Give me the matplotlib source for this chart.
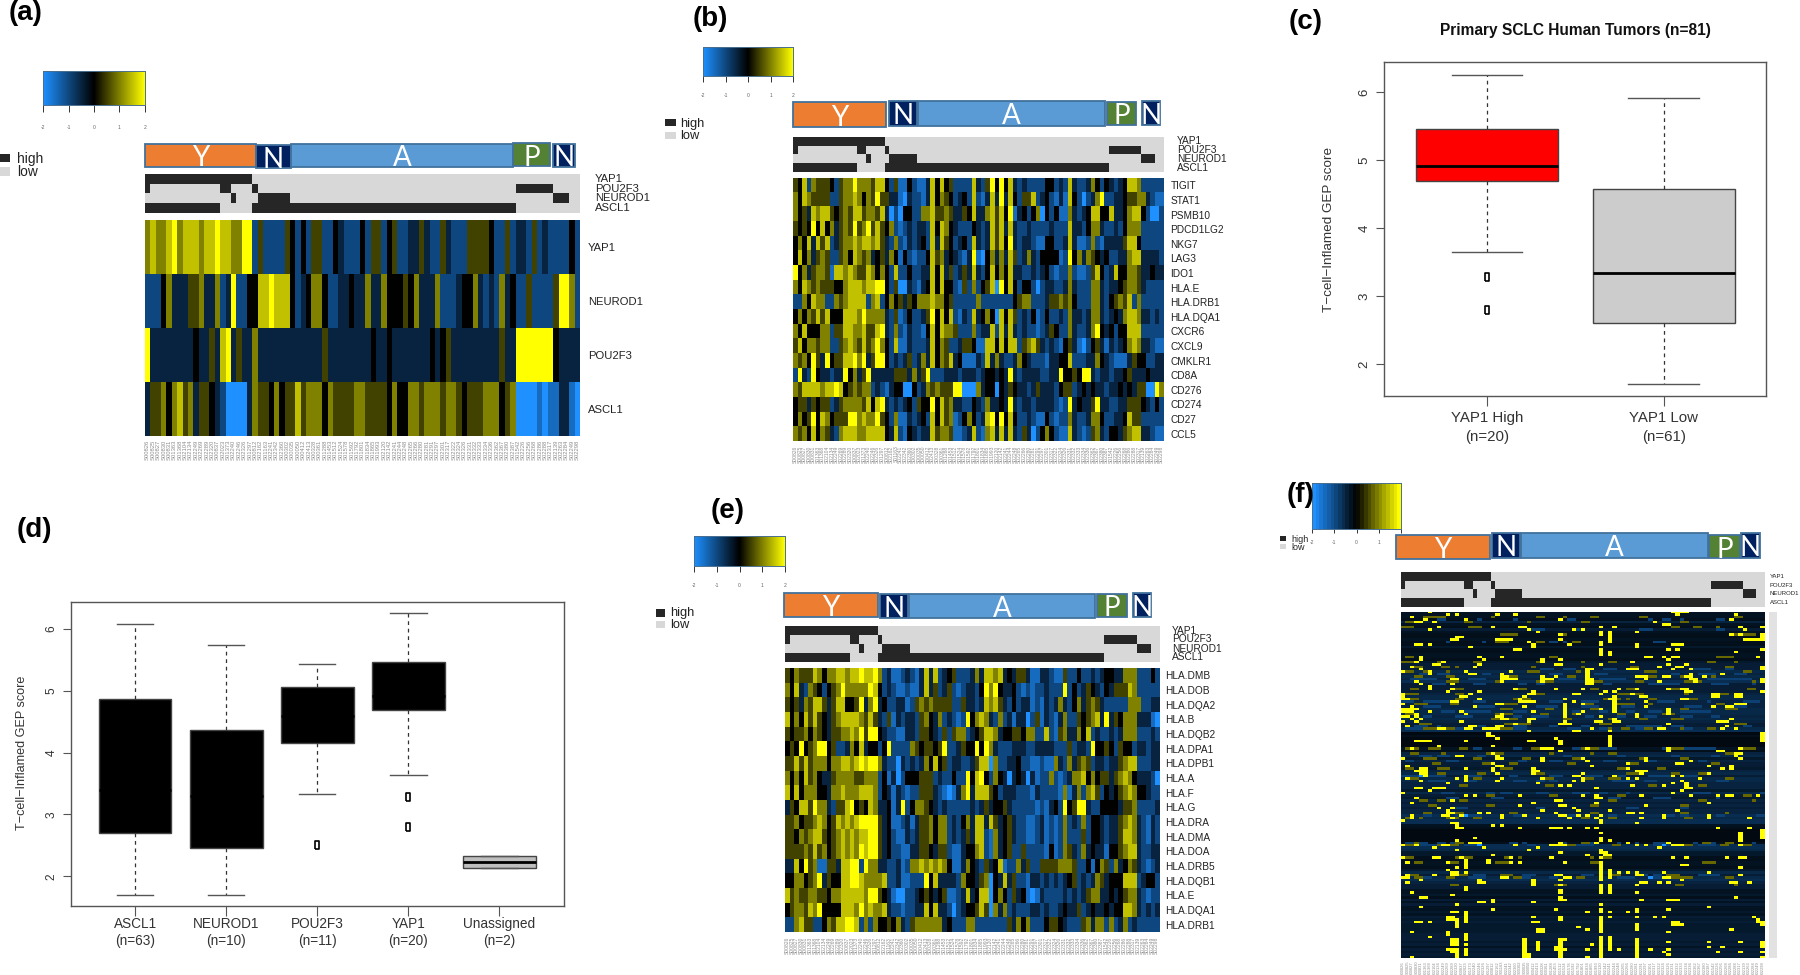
"""Six-panel SCLC figure: subtype heatmaps (a, b, e, f) and GEP score boxplots (c, d)."""
import matplotlib
matplotlib.use("Agg")
import matplotlib.pyplot as plt
import numpy as np
from matplotlib.colors import LinearSegmentedColormap, ListedColormap
from matplotlib.patches import Rectangle

plt.rcParams["font.family"] = ["Liberation Sans", "DejaVu Sans"]

W, H = 1800, 975
SCORE_LABEL = "T\u2212cell\u2212Inflamed GEP score"

# sample ids under every heatmap, small print so read as well as possible
samples = """S00826 S00825 S00827 S00830 S00831 S01363 S01368 S02104 S02134 S02249
S02269 S02289 S02320 S00837 S02023 S01373 S02240 S02246 S02326 S01297
S00812 S02162 S01163 S02241 S02342 S02360 S00302 S00035 S00050 S00412
S02413 S00328 S00361 S01288 S01453 S01512 S01524 S01578 S01592 S01792
S01801 S01834 S01865 S01993 S02120 S02142 S02241 S02244 S02248 S02265
S02266 S02280 S02281 S02291 S02297 S02301 S02317 S02322 S02324 S02326
S02331 S02332 S02333 S02334 S02336 S02362 S02367 S02380 S02387 S01542
S02226 S02256 S02268 S02286 S02288 S02317 S02139 S02263 S02284 S02249
S02298""".split()

# high / low calls above every heatmap
call_genes = ["YAP1", "POU2F3", "NEUROD1", "ASCL1"]
call_yap1 = "1111111111 1111111111 0000000000 0000000000 0000000000 0000000000 0000000000 00000000000"
call_pou2f3 = "1000000000 0000110000 1000000000 0000000000 0000000000 0000000000 0000000001 11111100000"
call_neurod1 = "0000000000 0000001000 0111111000 0000000000 0000000000 0000000000 0000000000 00000011100"
call_ascl1 = "1111111111 1111000000 1111111111 1111111111 1111111111 1111111111 1111111110 00000000000"

# heatmap cells are digits 0-8, meaning z scores -2 to 2 in steps of 0.5
a_genes = ["YAP1", "NEUROD1", "POU2F3", "ASCL1"]
a_rows = [
    "6766786777 6778776688 2522225424 2552243222 4255245223 3532253222 5555422523 32523222242",
    "2224633355 6336238224 4778777423 4664223343 3633644454 6333622234 4632326342 25222258862",
    "8333333334 3353783533 6333333333 3335333333 3343343333 3334345333 3333335338 88888843333",
    "3556467563 5543200003 6554645575 6664655556 6555546446 6566656654 5556664560 00010113310",
]

b_genes = ["TIGIT", "STAT1", "PSMB10", "PDCD1LG2", "NKG7", "LAG3", "IDO1", "HLA.E", "HLA.DRB1",
           "HLA.DQA1", "CXCR6", "CXCL9", "CMKLR1", "CD8A", "CD276", "CD274", "CD27", "CCL5"]
b_rows = [
    "5472655542 5668666577 4251142113 7474522227 3258484732 3222244232 7322364243 23477622222",
    "6476555522 5667646585 5331032213 7465423427 2137383742 5572342131 7420236822 33455663211",
    "6453767754 5657756657 3020442266 7556533547 3367574813 4246042411 6323477447 33467742002",
    "5454847463 5658568575 4621232332 7476432224 3237573732 2322223222 7332466322 32466622222",
    "4647375723 5667677675 3262132342 7375423427 3237574832 3321144223 7311262133 33577422222",
    "4746356522 5647656345 3641421224 7563432138 1046363752 3632444412 8463654342 23367733332",
    "8463566517 7676557646 4272242233 7473523537 3247464733 2232342122 6211257423 74466533433",
    "6476565554 4677767788 4250032134 7474421526 2457084742 4420233223 6322266323 34566532222",
    "2264766226 5677772672 4645354666 7664522222 6222222245 6622235565 6422266324 56572622222",
    "4646575744 4777686666 3251242235 8474721327 3464074752 3241242232 6332366323 43677633232",
    "6474446625 5776675578 3262132214 7476652226 2337273732 3221235422 6322368434 24477722222",
    "5746656622 5676575686 4271132223 7465223554 1177474772 5675323214 5310245313 23467633211",
    "6564853845 5778683588 4232352363 7465734111 3273632236 4322213344 7222336432 11135442233",
    "2832843323 3846358333 3355536358 2223332333 2344343832 3333223384 4548832332 33453334333",
    "6577776778 7456566232 1344004236 5655588000 6344043543 3235333245 5234343323 34343550086",
    "4553545523 5666657478 3232342544 8475633224 3263343832 3323333212 8343358332 23355543242",
    "4645847645 5588676685 4261132342 7475612464 2378484742 2321142122 6322366422 33475522222",
    "6564746532 6777667777 4372143233 7566511237 2167373732 5302464211 7321256324 43567733211",
]

e_genes = ["HLA.DMB", "HLA.DOB", "HLA.DQA2", "HLA.B", "HLA.DQB2", "HLA.DPA1", "HLA.DPB1", "HLA.A", "HLA.F",
           "HLA.G", "HLA.DRA", "HLA.DMA", "HLA.DOA", "HLA.DRB5", "HLA.DQB1", "HLA.E", "HLA.DQA1", "HLA.DRB1"]
e_rows = [
    "5465557646 6776778778 6231123213 7372345222 3637767343 5531133211 5224223234 43366622242",
    "6473265424 5686666687 4232112113 7352352123 3248684334 2121223222 8242354324 35557622222",
    "5453657753 5774458368 3422331256 5655552253 3237675324 2331213236 3246356532 22226662233",
    "7464757543 5677776575 3251323325 6436232128 4676326231 3302513213 6225456738 35466633310",
    "5455646543 5566768588 4322113325 5432525662 3457763445 5466227215 6336472322 32366622232",
    "4548456884 5223647344 2482222654 5545822354 4848632223 3322333322 2523328445 42544233233",
    "5575756664 6677678788 6322032323 6474523322 3577062233 4221121163 2635652332 33567722233",
    "6464756433 5666655666 2413024445 5523224228 4784264303 4303122621 2366746455 35676433320",
    "7474666443 6676667776 2431321225 5532101368 3777542333 2221322221 6136267524 34567644322",
    "3547758663 2557845476 3341382466 5432322222 3235344532 2222121342 8458832244 44355622223",
    "5564556764 5767678888 5341123135 5646623246 3773753453 2211231212 6232624432 33567632132",
    "5546567754 5676767788 5342113235 5646623235 3772163453 2211231212 6222524432 33577632132",
    "5555657564 5676768788 5342211335 5435521134 4672163452 2522221412 6532634331 44567732233",
    "3374856115 5377882866 3322312667 6767641136 4325347122 6352255556 6652241465 26346532123",
    "4466456835 4477887666 6722311222 8473333264 4356043735 2213323232 3452323653 44477723442",
    "7565566554 6677777688 5431002234 5434511237 3477046425 3410132222 3232356633 43456632122",
    "4566576844 4477768676 6732212233 7473320234 4575063623 2223323223 4335234334 34477632323",
    "2267552246 5778872626 4454632566 6666342226 6222222253 6462224554 3222563662 62362322222",
]

# panel f is 140 rows x 81 columns and mostly one navy level per row, so it is kept sparse:
# base darkness per row (digit = -0.07 * z) and the columns that stand out
f_base = ("4443743643" "3433533443" "5666878796" "6667887778" "8878766892" "3222243785" "7665786887"
          "7758657676" "7798994322" "2223998553" "3443586897" "6644536464" "4546565555" "6665646565")
f_yellow = [
    [6, 60, 61, 62, 63], [10, 12, 21, 25, 61, 74], [2], [5, 14, 35, 73], [3, 4, 7, 56], [58, 59],
    [8, 20, 26, 27, 44, 47, 75, 80], [6, 28, 38, 40, 76], [30, 44, 46, 52], [35, 44, 46, 73, 75, 80],
    [12, 13, 46, 80], [11, 12, 21, 22, 23, 24, 35, 46, 76, 77, 78, 79, 80], [28, 44, 46],
    [3, 4, 6, 29, 37, 44, 52, 60, 61, 62], [15, 29, 52], [25, 26, 44, 59, 61, 80], [44, 46, 74], [44, 46],
    [4, 17, 22, 54, 55, 58, 60, 61, 79], [4, 18, 31, 35, 59], [3, 9, 31, 51], [7, 8, 17, 34, 35, 44, 59, 63],
    [2, 16, 57, 61, 62, 80], [4, 41, 42, 50, 51, 52, 60, 64, 80], [0, 6, 14, 24, 41], [6, 15, 16, 22, 41, 64, 71],
    [22, 23, 31, 34, 41, 52, 53, 54, 58, 59, 63, 64, 67],
    [11, 12, 22, 23, 24, 25, 31, 32, 33, 41, 42, 54, 64, 65, 80], [3, 22, 31, 41, 42, 57, 65, 80],
    [4, 11, 41, 42], [6], [6, 11, 25, 34, 40, 48, 52, 59, 62, 63], [10, 17, 29, 45, 47, 63, 64, 80],
    [0, 15, 28, 29, 38, 39, 44, 51, 69, 70, 74, 75], [0, 13, 14, 27, 47, 53, 54, 69, 70, 74, 75],
    [0, 1, 17, 26, 36, 46, 47, 62, 63], [11, 12, 26, 27, 28, 29, 38, 47, 54], [0, 21, 22, 36, 40, 47, 74, 75, 76],
    [2, 16, 27, 36, 47, 54, 69, 72, 73], [0, 1, 2, 3, 36, 44, 47, 59], [0, 1, 2, 6, 13, 29, 36, 40, 47, 59],
    [3, 14, 22, 36, 39, 52, 59], [0, 1, 3, 21, 22, 36, 44, 52], [2, 4, 22, 23, 28, 29, 47, 73],
    [0, 3, 13, 28, 36, 43, 44, 47, 48, 70, 71, 72], [25, 35, 36, 37, 59], [1, 15, 16, 21, 22, 72],
    [8, 9, 14, 15, 18, 19, 20, 21, 42, 57, 58, 71, 74], [28, 38, 39, 46], [19, 80], [19, 20, 46, 80], [21, 34, 46, 80],
    [3, 4, 5, 6, 14, 28, 29, 35, 46, 80], [35, 46], [8, 20, 46], [2, 31, 32, 33, 41, 59, 75], [35, 59, 70, 71],
    [20, 74, 75], [12, 13, 21, 74], [0, 21, 22, 31, 40, 54, 75], [31, 41, 54, 64], [20, 50, 61, 62],
    [1, 21, 22, 42, 68, 73], [4, 5, 14, 20, 29, 50, 71, 73], [3, 4, 5, 20, 29, 30, 52, 53, 54], [4, 5, 21, 29, 40, 53, 68],
    [5, 14, 38, 39, 47, 60, 62], [1, 12, 14, 22, 31, 40, 50, 52, 66], [4, 14, 21, 38, 40, 62], [10, 30, 60, 63],
    [35, 37, 51, 58, 63], [3, 4, 7, 8, 9, 43, 63, 64], [6, 62], [0, 60], [14, 16, 26, 40, 43, 53, 64, 70, 72, 73, 79],
    [3, 43, 44], [11, 34, 35], [2, 29, 43, 68], [26, 35, 36, 54], [8, 11, 38], [10, 31, 39, 46, 61],
    [10, 11, 17, 19, 34, 50, 51, 53], [2, 9, 10, 13, 22, 27, 35, 36, 39, 41, 44, 58, 68],
    [2, 11, 22, 30, 37, 43, 53, 58, 68, 77], [0, 44], [11, 12, 44, 52], [12, 20, 22],
    [12, 13, 26, 33, 34, 35, 37, 41, 43, 70, 77], [80], [44, 75, 80], [75, 80], [16, 44, 75, 80], [12, 44, 46, 75],
    [15, 16, 17, 35, 43, 50, 59], [0, 3, 9, 10, 25, 33, 34, 35, 36, 52, 54, 60, 61, 62, 75], [7, 18, 30, 57],
    [12, 28, 44], [35, 44, 45], [20, 41, 45, 46], [0, 7, 8, 13, 24, 33, 44, 60, 63, 72, 75, 76], [14, 19],
    [1, 10, 14, 19, 24, 26, 36, 44], [14, 44, 62, 63], [12, 14, 44, 75], [10, 44, 46],
    [11, 12, 14, 44, 46, 48, 50, 52, 58, 68], [1, 7, 11, 12, 34, 35, 44, 46, 52, 53, 75],
    [0, 1, 22, 23, 36, 37, 44, 46, 58, 59], [4, 17, 29, 35, 44, 62], [1, 17, 18, 29, 53, 54, 57, 59, 73, 74, 77],
    [29, 35, 44, 46, 52], [14, 44, 46], [14, 35, 44, 46], [2, 35, 44, 46, 52], [11], [4, 5, 35, 74],
    [20, 35, 36, 53, 59, 60, 61], [17, 18, 20, 29], [12, 44], [4, 68], [20, 34, 44, 52, 59],
    [11, 12, 14, 41, 44, 46, 50, 52], [14], [10, 11, 14, 29, 35, 44, 46, 52, 56, 58, 78], [10, 11, 12, 14, 35, 44, 79],
    [3, 4, 6, 12, 14, 29, 30, 44, 60, 61, 79, 80], [12, 44, 52, 60, 61, 62, 80], [12, 39, 44, 52], [30, 31, 41, 44, 52, 73],
    [2, 10, 30, 31, 44, 59], [10, 14], [6, 14, 44, 46], [11, 12, 14, 27, 35, 36, 44, 46, 52],
    [11, 12, 27, 30, 35, 44, 46, 52, 59, 68, 75, 80], [11, 12, 14, 27, 30, 35, 42, 44, 46, 52, 80],
    [27, 30, 34, 35, 44, 46, 52, 68, 71, 80], [10, 11, 12, 14, 27, 30, 34, 35, 36, 41, 44, 46, 48, 52, 55, 59],
    [11, 12, 14, 27, 35, 44, 52, 58, 70, 75, 80], [12, 14, 27, 28, 35, 44, 52, 59], [2, 12, 27, 28, 35, 41, 44, 52, 80],
]
f_olive = {
    2: [5, 6, 7, 8, 9, 20, 30, 31, 36, 42, 43, 53, 54, 74, 75], 4: [1, 2, 3, 14, 15, 28, 40, 41, 62, 63],
    6: [0, 1, 2, 15, 16, 17, 60, 61, 65, 66, 70], 9: [22, 23, 24, 25, 35, 36, 73, 74, 75, 76, 77, 78], 12: [21, 22, 23, 30, 31, 38, 39],
    18: [1, 2, 33, 34, 70, 71, 72, 73], 20: [0, 1, 2, 8, 16, 17, 30, 40, 46, 47, 68, 69, 74], 22: [3, 4, 9, 10, 12, 29, 40, 51, 52, 72, 73],
    24: [1, 2, 5, 10, 28, 29, 30, 39, 54, 55, 56, 76, 77], 26: [3, 4, 10, 11, 24, 25, 37, 38, 55, 56, 62, 69],
    28: [10, 11, 12, 21, 30, 32, 33, 43, 44, 52, 53, 63, 64, 66, 78], 31: [2, 3, 12, 13, 26, 27, 42, 43, 50, 51, 60, 61, 77, 78],
    33: [1, 2, 3, 12, 13, 30, 31, 48, 49, 50, 52, 53, 63, 71, 72], 35: [2, 3, 12, 13, 25, 27, 28, 45, 48, 50, 55, 56, 64, 65],
    37: [3, 4, 5, 11, 12, 23, 24, 25, 41, 42, 48, 49, 50, 51, 55, 70, 71], 39: [22, 23, 24, 32, 33, 42, 43, 62, 63, 72, 73, 74],
    41: [1, 2, 21, 23, 24, 31, 32, 38, 48, 49, 58, 60], 43: [20, 21, 24, 25, 36, 37, 46, 53, 54, 60, 61, 62],
    45: [4, 5, 6, 23, 24, 26, 27, 28, 44, 45, 46, 74, 75, 76], 47: [5, 6, 7, 10, 11, 22, 23, 24, 27, 45, 46, 49, 50, 54, 55, 62, 63, 68, 69],
    55: [1, 2, 3, 6, 7, 8, 13, 14, 29, 30, 40, 42, 43, 60, 61, 62, 76, 77, 78], 57: [2, 3, 9, 19, 21, 22, 33, 42, 46, 47, 72, 73],
    59: [5, 6, 7, 16, 17, 27, 28, 38, 39, 53, 62, 63], 61: [7, 8, 18, 19, 24, 25, 37, 38, 51, 52, 69, 70],
    63: [1, 2, 8, 9, 10, 22, 23, 24, 48, 49, 57, 58], 65: [8, 9, 17, 18, 30, 31, 50, 51, 52, 60, 61, 66, 67],
    67: [2, 3, 16, 17, 32, 33, 41, 42, 46, 47, 48, 72, 73], 70: [13, 14, 32, 33, 55, 56, 66, 67], 74: [19, 20, 33, 34, 48, 49, 76, 77],
    76: [4, 5, 8, 9, 13, 14, 46, 47, 66, 67, 78], 78: [6, 7, 19, 20, 42, 43, 62, 63], 81: [5, 6, 12, 13, 24, 25, 42, 43, 62, 63, 72],
    83: [1, 4, 10, 12, 16, 17, 40, 41, 46, 47, 63, 64], 93: [2, 3, 12, 13, 40, 41, 67, 68, 72, 73], 94: [1, 2, 8, 11, 12, 37, 38, 47, 48, 63, 64, 71, 72, 76, 77],
    99: [1, 2, 12, 14, 15, 23, 26, 42, 45, 46], 101: [3, 4, 11, 12, 21, 22, 23, 42, 43, 67, 68, 69], 106: [2, 3, 13, 14, 22, 23, 24, 47, 48, 59, 60, 61],
    107: [3, 4, 10, 11, 25, 26, 39, 40, 60, 61, 62, 63, 64, 72, 73], 110: [11, 12, 34, 36, 61, 62, 74],
}
f_blue = {
    3: [8, 9, 17, 25, 37, 38, 55, 58, 59, 62, 70, 71], 7: [29, 30, 31, 38, 39, 53, 54, 55, 70, 71], 12: [10, 18, 33, 34, 36, 56, 57, 58],
    23: [31, 32, 33, 36, 37, 38, 45, 46, 47, 65, 66, 67, 68, 72, 73], 25: [4, 5, 8, 9, 10, 18, 19, 33, 34, 35, 43, 44, 45, 60, 61, 66, 67, 68, 69, 74, 75, 76],
    27: [2, 3, 4, 5, 6, 7, 15, 16, 17, 18, 35, 36, 37, 38, 44, 45, 46, 47, 48, 49, 68, 69, 70, 71, 72, 73, 74, 75, 76, 77],
    29: [7, 8, 9, 16, 17, 18, 26, 27, 30, 31, 45, 46, 55, 56, 57, 58, 59, 60, 61, 69, 70, 71, 72, 78],
    36: [0, 1, 2, 5, 6, 7, 8, 9, 10, 16, 17, 18, 33, 34, 35, 40, 41, 42, 43, 57, 58, 59, 60, 68, 76, 77, 78, 79],
    38: [5, 6, 7, 8, 17, 18, 19, 20, 30, 31, 32, 33, 34, 40, 41, 42, 43, 49, 50, 51, 63, 64, 65, 66, 74, 75, 76],
    40: [9, 10, 11, 14, 15, 16, 17, 18, 19, 25, 26, 27, 38, 39, 44, 45, 50, 51, 55, 56, 57, 62, 63, 64, 65, 66, 67, 68],
    42: [5, 6, 12, 13, 14, 15, 25, 26, 29, 30, 31, 32, 41, 42, 48, 49, 54, 55, 56, 62, 63, 64, 69, 70],
    46: [3, 4, 5, 8, 17, 18, 25, 26, 27, 33, 34, 40, 41, 50, 51, 52, 53, 54, 55, 56, 57, 60, 61, 62, 76, 77],
    47: [1, 2, 3, 4, 12, 13, 25, 26, 27, 37, 38, 39, 44, 45, 52, 53, 63, 64],
    55: [16, 17, 25, 26, 38, 39, 44, 45, 46, 47, 58, 63, 64, 65, 66, 67, 68, 69], 58: [4, 5, 6, 8, 9, 10, 17, 18, 36, 37, 48, 49, 60, 61, 69, 70],
    60: [1, 2, 10, 11, 12, 26, 27, 33, 34, 35, 45, 46, 47, 55, 56, 66, 67], 66: [0, 1, 2, 3, 6, 7, 8, 9, 15, 16, 17, 24, 25, 33, 34, 35, 41, 42, 43, 44, 48, 49, 55, 56, 57, 58, 59, 63, 64, 65],
    68: [6, 7, 8, 9, 15, 16, 25, 26, 27, 30, 31, 33, 34, 47, 48, 49, 50, 51, 54, 55, 56, 70, 71, 72],
    73: [9, 10, 11, 19, 20, 22, 23, 24, 30, 31, 32, 38, 39, 40, 41, 44, 45, 50, 65, 66, 67, 68, 80],
    75: [10, 11, 12, 20, 21, 22, 46, 47, 48, 56, 57, 58, 59, 70], 79: [12, 13, 14, 30, 31, 50, 51, 52, 62, 63],
    82: [5, 6, 12, 14, 15, 16, 17, 25, 26, 37, 38, 46, 47, 59, 60, 62, 63, 70, 71, 79, 80], 93: [1, 2, 4, 5, 8, 9, 11, 24, 25, 27, 36, 42, 48, 52, 56, 57, 58, 65, 69, 78],
    94: [4, 5, 6, 7, 14, 15, 16, 17, 28, 29, 39, 40, 41, 42, 56, 57, 58, 59, 66, 67, 68, 69], 106: [16, 17, 18, 27, 28, 29, 40, 41, 42, 54, 56, 57, 66, 67, 68, 69, 70],
    107: [5, 6, 15, 16, 17, 18, 27, 28, 33, 34, 48, 49, 50, 51, 55, 56, 57],
}
f_bright = {66: [4], 82: [14], 94: [17, 58], 106: [46], 107: [55], 27: [24]}

# boxplots, values read against the y axes
c_groups = ["YAP1 High\n(n=20)", "YAP1 Low\n(n=61)"]
c_q1 = [4.686, 2.598]
c_med = [4.917, 3.338]
c_q3 = [5.46, 4.569]
c_lo = [3.647, 1.70]
c_hi = [6.255, 5.917]
c_out = [[3.28, 2.80], []]

d_groups = ["ASCL1\n(n=63)", "NEUROD1\n(n=10)", "POU2F3\n(n=11)", "YAP1\n(n=20)", "Unassigned\n(n=2)"]
d_q1 = [2.697, 2.454, 4.15, 4.686, 2.14]
d_med = [3.4, 3.3, 4.6, 4.917, 2.23]
d_q3 = [4.876, 4.368, 5.06, 5.465, 2.32]
d_lo = [1.70, 1.70, 3.335, 3.643, 2.14]
d_hi = [6.08, 5.75, 5.44, 6.254, 2.32]
d_out = [[], [], [2.50], [3.28, 2.80], []]

fig = plt.figure(figsize=(W / 100, H / 100), dpi=100, facecolor="white")
cmap = LinearSegmentedColormap.from_list("z", ["#1E90FF", "#000000", "#FFFF00"])
call_cmap = ListedColormap(["#D8D8D8", "#262626"])

overlay = fig.add_axes([0, 0, 1, 1], zorder=5)
overlay.set_xlim(0, W)
overlay.set_ylim(H, 0)
overlay.axis("off")
overlay.patch.set_alpha(0)


def px_axes(x0, y0, x1, y1):
    return fig.add_axes([x0 / W, 1 - y1 / H, (x1 - x0) / W, (y1 - y0) / H])


def parse(rows):
    return np.array([[(int(c) - 4) * 0.5 for c in r.replace(" ", "")] for r in rows])


def panel_tag(txt, x, y):
    overlay.text(x, y, txt, fontsize=20, fontweight="bold", ha="left", va="center", color="black")


def colorbar(x0, y0, x1, y1, tick_px, pad, steps=256):
    ax = px_axes(x0, y0, x1, y1)
    ax.imshow(np.linspace(-2, 2, steps)[None, :], cmap=cmap, vmin=-2, vmax=2, aspect="auto", extent=[-2, 2, 0, 1])
    ax.set_yticks([])
    ax.set_xticks([-2, -1, 0, 1, 2], ["-2", "-1", "0", "1", "2"])
    ax.tick_params(axis="x", length=tick_px * 0.72, width=0.7, color="#333333", pad=pad, labelsize=3.6, labelcolor="#666666")
    for s in ax.spines.values():
        s.set_color("#4a6f8f")
        s.set_linewidth(0.7)


def legend(sw_x0, sw_x1, text_x, high_box, low_box, high_y, low_y, size):
    overlay.add_patch(Rectangle((sw_x0, high_box[0]), sw_x1 - sw_x0, high_box[1] - high_box[0], color="#262626", lw=0))
    overlay.add_patch(Rectangle((sw_x0, low_box[0]), sw_x1 - sw_x0, low_box[1] - low_box[0], color="#D8D8D8", lw=0))
    overlay.text(text_x, high_y, "high", fontsize=size, va="center", color="#222222")
    overlay.text(text_x, low_y, "low", fontsize=size, va="center", color="#222222")


def subtype_bar(boxes, size):
    # boxes: letter, fill, x0, y0, x1, y1 in figure pixels
    for letter, fill, x0, y0, x1, y1 in boxes:
        overlay.add_patch(Rectangle((x0, y0), x1 - x0, y1 - y0, facecolor=fill, edgecolor="#41719C", lw=1.3))
        overlay.text((x0 + x1) / 2, (y0 + y1) / 2 + 0.5, letter, color="white", fontsize=size,
                     family=["Lato", "DejaVu Sans"], ha="center", va="center_baseline")


def calls(x0, y0, x1, y1, label_x, size):
    matrix = np.array([[int(c) for c in s.replace(" ", "")]
                       for s in [call_yap1, call_pou2f3, call_neurod1, call_ascl1]])
    ax = px_axes(x0, y0, x1, y1)
    ax.imshow(matrix, cmap=call_cmap, vmin=0, vmax=1, aspect="auto", interpolation="nearest")
    ax.axis("off")
    row_h = (y1 - y0) / 4
    for i, g in enumerate(call_genes):
        overlay.text(label_x, y0 + row_h * (i + 0.5), g, fontsize=size, va="center", color="#222222")


def heat(matrix, x0, y0, x1, y1, genes, gene_size, sample_size, pad_px, gene_pad=5.5):
    ax = px_axes(x0, y0, x1, y1)
    ax.imshow(matrix, cmap=cmap, vmin=-2, vmax=2, aspect="auto", interpolation="nearest")
    for s in ax.spines.values():
        s.set_visible(False)
    ax.set_xticks(range(len(samples)), samples, rotation=90, fontsize=sample_size, color="#8c8c8c")
    ax.tick_params(axis="x", length=0, pad=pad_px * 0.72)
    if genes:
        ax.yaxis.tick_right()
        ax.set_yticks(range(len(genes)), genes, fontsize=gene_size, color="#222222")
        ax.tick_params(axis="y", length=0, pad=gene_pad)
    else:
        ax.set_yticks([])
    return ax


ORANGE, NAVY, BLUE, GREEN = "#ED7D31", "#002060", "#5B9BD5", "#548235"

# (a)
panel_tag("(a)", 9, 13)
colorbar(43, 71, 145, 105, 7, 9)
legend(0, 10, 17, (154, 162), (167, 176), 159, 172, 9.9)
subtype_bar([("Y", ORANGE, 145, 144, 256, 167), ("N", NAVY, 256, 145, 291, 168), ("A", BLUE, 291, 144, 513, 167),
             ("P", GREEN, 513, 143, 550, 166), ("N", NAVY, 553, 144, 575, 167)], 20)
calls(145, 174, 580, 213, 595, 8.1)
heat(parse(a_rows), 145, 220, 580, 436, a_genes, 8.1, 4.2, 4)

# (b)
panel_tag("(b)", 693, 19)
colorbar(703, 47, 793, 76, 6, 8)
legend(665, 676, 680, (119, 126), (132, 139), 124, 136, 9.3)
subtype_bar([("Y", ORANGE, 793, 102, 886, 127), ("N", NAVY, 889, 101, 917, 126), ("A", BLUE, 918, 101, 1105, 126),
             ("P", GREEN, 1107, 102, 1136, 125), ("N", NAVY, 1142, 101, 1160, 125)], 20)
calls(793, 137, 1164, 172, 1177, 7.3)
heat(parse(b_rows), 793, 178, 1164, 441, b_genes, 7.3, 3.6, 4.5, gene_pad=4.7)

# (e)
panel_tag("(e)", 711, 511)
colorbar(694, 536, 785, 566, 6, 8)
legend(656, 665, 670, (609, 617), (621, 628), 613, 625, 9.3)
subtype_bar([("Y", ORANGE, 784, 593, 878, 617), ("N", NAVY, 880, 594, 908, 618), ("A", BLUE, 909, 594, 1095, 618),
             ("P", GREEN, 1097, 594, 1127, 617), ("N", NAVY, 1133, 593, 1151, 617)], 20)
calls(785, 626, 1159, 662, 1172, 7.3)
heat(parse(e_rows), 785, 668, 1159, 932, e_genes, 7.3, 3.6, 5, gene_pad=4.3)

# (f)
f_matrix = np.array([[-0.07 * int(c)] * 81 for c in f_base])
for row, cols in f_olive.items():
    f_matrix[row, cols] = 0.8
for row, cols in f_blue.items():
    f_matrix[row, cols] = -0.9
for row, cols in f_bright.items():
    f_matrix[row, cols] = -2
for row, cols in enumerate(f_yellow):
    f_matrix[row, cols] = 2

panel_tag("(f)", 1287, 495)
colorbar(1312, 483, 1401, 529, 4, 5, steps=24)
legend(1280, 1286, 1291, (536, 541), (544, 549), 539, 547, 6.5)
subtype_bar([("Y", ORANGE, 1396, 535, 1490, 559), ("N", NAVY, 1492, 533, 1520, 558), ("A", BLUE, 1521, 533, 1708, 558),
             ("P", GREEN, 1709, 535, 1740, 558), ("N", NAVY, 1741, 533, 1760, 558)], 20)
calls(1401, 572, 1765, 607, 1770, 4.3)
heat(f_matrix, 1401, 612, 1765, 958, None, 0, 2.9, 3)
# row names of (f) are illegible in the source, only their grey strip is kept
overlay.add_patch(Rectangle((1769, 612), 8, 346, color="#e2e2e2", lw=0))


def boxes(ax, groups, q1, med, q3, lo, hi, out, fills, tick_size, label_size, x_pad, line_gap):
    stats = [{"label": g, "q1": a, "med": m, "q3": b, "whislo": l, "whishi": h, "fliers": f}
             for g, a, m, b, l, h, f in zip(groups, q1, med, q3, lo, hi, out)]
    rect = [(-0.55, -1), (0.55, -1), (0.55, 1), (-0.55, 1), (-0.55, -1)]
    art = ax.bxp(stats, positions=range(1, len(groups) + 1), widths=0.8, capwidths=0.4, patch_artist=True,
                 boxprops=dict(edgecolor="#444444", linewidth=1.0),
                 medianprops=dict(color="black", linewidth=2.0),
                 whiskerprops=dict(color="#333333", linewidth=0.9, linestyle=(0, (3, 3))),
                 capprops=dict(color="#555555", linewidth=1.0),
                 flierprops=dict(marker=rect, markersize=6.2, markerfacecolor="white",
                                 markeredgecolor="black", markeredgewidth=1.2))
    for patch, fill in zip(art["boxes"], fills):
        patch.set_facecolor(fill)
    for s in ax.spines.values():
        s.set_color("#555555")
        s.set_linewidth(1.0)
    ax.set_yticks([2, 3, 4, 5, 6])
    ax.tick_params(axis="y", labelrotation=90, length=6, width=0.8, color="#555555", labelsize=tick_size, labelcolor="#333333")
    ax.tick_params(axis="x", length=7, width=0.8, color="#555555", labelsize=label_size, labelcolor="#333333", pad=x_pad)
    for lab in ax.get_yticklabels():
        lab.set_va("center")
    for lab in ax.get_xticklabels():
        lab.set_linespacing(line_gap)


# (c)
ax_c = px_axes(1384, 62, 1766, 396)
boxes(ax_c, c_groups, c_q1, c_med, c_q3, c_lo, c_hi, c_out, ["#FF0000", "#CCCCCC"], 9.5, 10.8, 3.5, 1.45)
ax_c.set_xlim(0.418, 2.578)
ax_c.set_ylim(1.53, 6.44)
overlay.text(1329, 229, SCORE_LABEL, rotation=90, fontsize=9.7, ha="center", va="center", color="#333333")
overlay.text(1575, 31, "Primary SCLC Human Tumors (n=81)", fontsize=11.2, fontweight="bold", ha="center", va="center", color="#111111")
panel_tag("(c)", 1289, 22)

# (d)
ax_d = px_axes(71, 602, 564, 906)
boxes(ax_d, d_groups, d_q1, d_med, d_q3, d_lo, d_hi, d_out, ["black", "black", "black", "black", "#BEBEBE"], 8.6, 9.8, 1, 1.3)
ax_d.set_xlim(0.297, 5.709)
ax_d.set_ylim(1.518, 6.438)
overlay.text(22, 753, SCORE_LABEL, rotation=90, fontsize=9.1, ha="center", va="center", color="#333333")
panel_tag("(d)", 17, 530)

fig.savefig("out.png", dpi=100)
